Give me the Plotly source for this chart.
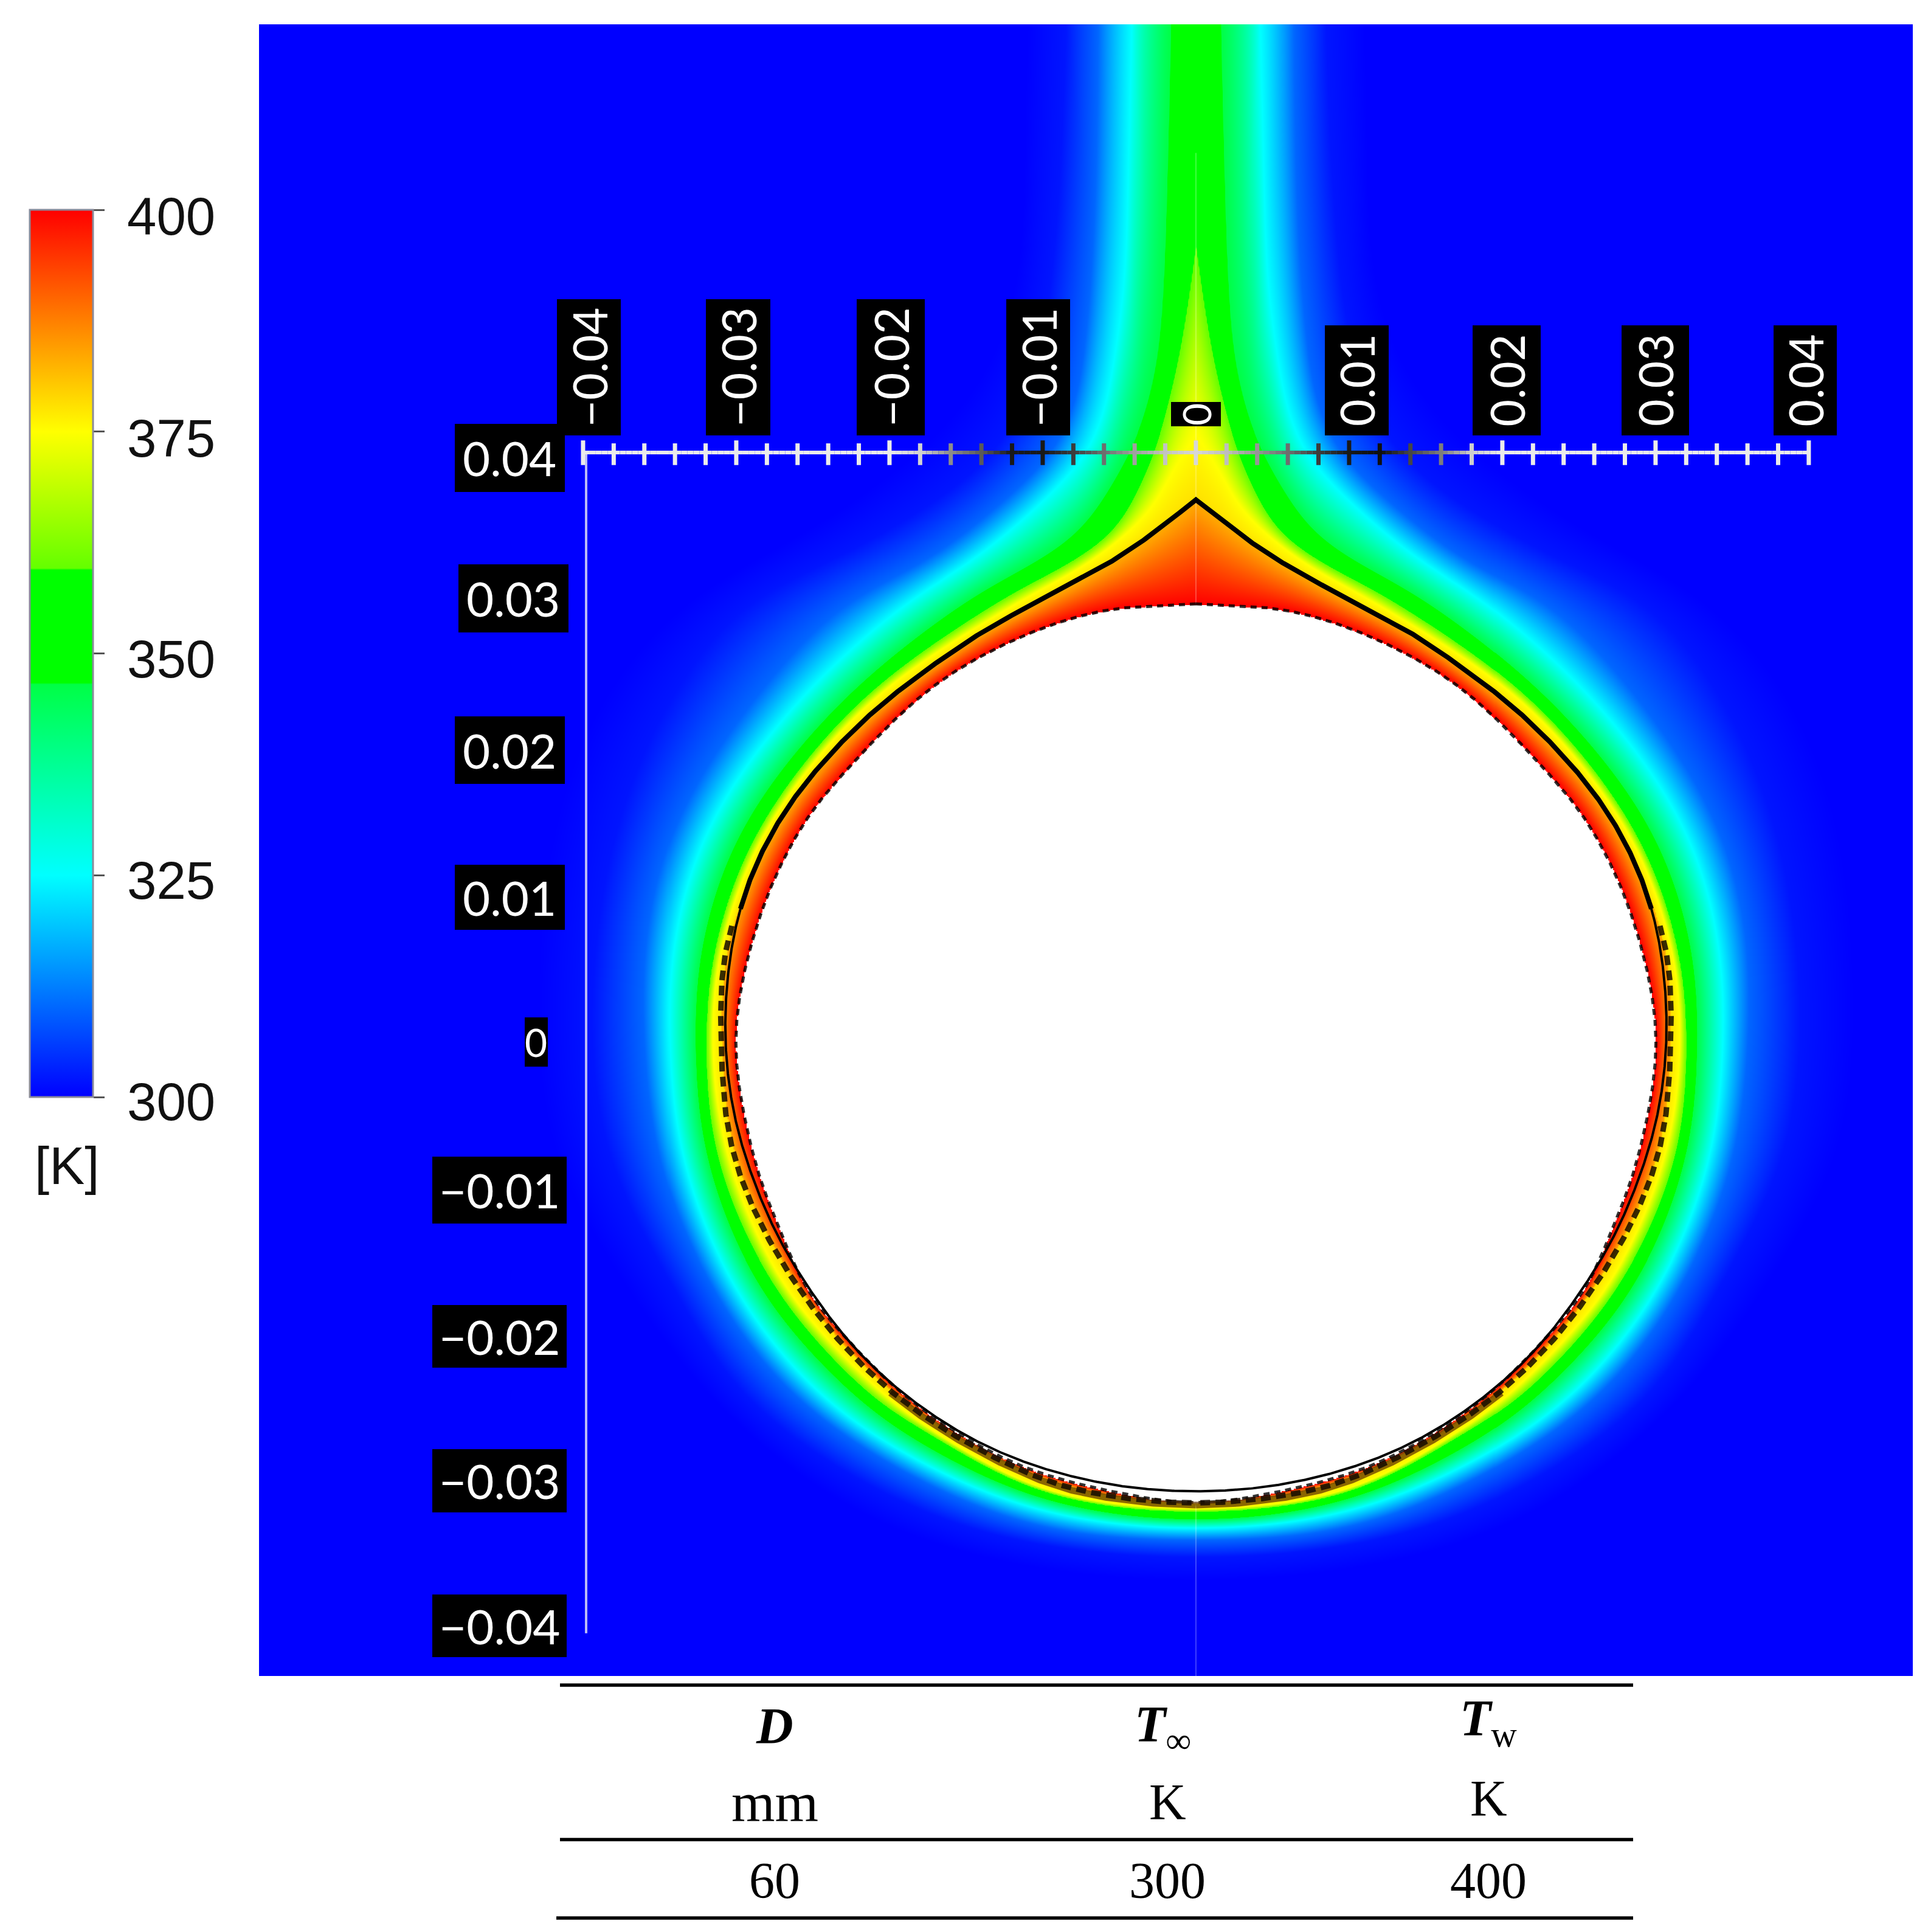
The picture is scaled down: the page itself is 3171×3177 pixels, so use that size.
import numpy as np
import plotly.graph_objects as go

W_PX, H_PX = 3171, 3177

# everything in mm; w = half width from the axis, y = height
Y_HOLE = [29.75, 29.3, 27.4, 24.1, 18.5, 14.9, 8.8, 0.4, -8.0, -12.8, -16.7, -20.5, -24.0, -27.1, -29.0, -30.5, -31.2]
W_HOLE = [0, 6.1, 11.7, 17.25, 22.8, 25.6, 28.4, 30.06, 28.8, 27.1, 25.4, 22.4, 18.9, 14.5, 10.6, 5.0, 0]

Y_IFACE = [36.8, 35.2, 33.95, 32.2, 30.6, 29.2, 27.6, 25.5, 23.5, 20.8, 17.6, 15.6, 13.0, 10.3, 7.0, 3.6, 0.1,
           -2.3, -5.7, -9.2, -13.3, -17.0, -20.8, -24.2, -27.0, -28.8, -30.1, -30.45]
W_IFACE = [0, 1.95, 3.34, 6.1, 8.9, 11.7, 14.5, 17.25, 20.0, 22.8, 25.6, 27.0, 28.4, 29.5, 30.3, 30.7, 30.8,
           30.6, 30.06, 28.95, 27.3, 25.05, 22.3, 18.65, 14.5, 10.3, 5.0, 0]

Y_JAG = [14.6, 7.0, 0.1, -8.0, -16.7, -23.9, -29.6, -30.8, -31.2]
W_JAG = [27.6, 30.6, 31.0, 30.1, 25.9, 19.6, 10.0, 5.0, 0]

Y_375 = [41.3, 40, 38.6, 36.9, 34.9, 32.2, 30.5, 23.2, 14.6, 7.0, 0.1, -8, -16.7, -23.9, -25.7, -30.2, -31.55]
W_375 = [0, 0.7, 1.8, 2.3, 4.1, 7.5, 10.6, 21.2, 28, 30.9, 31.6, 30.5, 26.7, 20.3, 18, 10, 0]

Y_360 = [54, 50.9, 46, 42.6, 40, 37.7, 34.8, 32.2, 30.5, 23.2, 14.6, 7, 0.1, -8, -16.7, -23.9, -26.1, -30.4, -31.75]
W_360 = [0, 0.4, 1.2, 2.0, 2.7, 3.7, 5.2, 8.8, 12, 21.9, 28.5, 31.3, 32, 31.2, 27.4, 21.2, 18, 10, 0]

Y_348 = [68.9, 60, 50.9, 46, 42.6, 40, 37.7, 34.8, 32.2, 30.5, 23.2, 14.6, 7, 0.1, -8, -16.7, -23.9, -27.1, -30.9, -32.3]
W_348 = [1.6, 1.8, 2.1, 2.5, 3.3, 4.2, 5.6, 7.3, 11.1, 14.2, 23.1, 29.6, 32.2, 32.7, 31.9, 28.4, 22.3, 18, 10, 0]

Y_325 = [68.9, 60, 50.9, 46, 42.6, 40, 37.7, 34.8, 32.2, 30.5, 23.2, 14.6, 7, 0.1, -8, -16.7, -23.9, -28.4, -31.75, -32.9]
W_325 = [4.2, 4.4, 4.7, 5.4, 5.9, 6.8, 9, 12, 15.2, 18.1, 26, 31.9, 34.1, 34.4, 33.5, 30.1, 24.5, 18, 10, 0]

Y_310 = [68.9, 60, 50.9, 46, 42.6, 40, 37.7, 34.8, 32.2, 30.5, 23.2, 14.6, 7, 0.1, -8, -16.7, -23.9, -29.7, -32.9, -33.7]
W_310 = [6.4, 6.5, 6.9, 7.4, 7.8, 9, 11.5, 14.8, 18, 22.3, 29, 34.2, 36, 36.05, 35.1, 31.6, 26.4, 18, 10, 0]

Y_302 = [68.9, 60, 50.9, 46, 42.6, 40, 37.7, 34.8, 32.2, 30.5, 23.2, 14.6, 7, 0.1, -8, -16.7, -23.9, -31.8, -34.1, -34.9]
W_302 = [8.5, 8.8, 9.5, 10.2, 11.4, 12.6, 15.5, 20, 24.5, 29, 34.5, 37.9, 39.2, 39.5, 38.4, 34, 29.8, 18, 10, 0]

Y_300 = [68.9, 46, 34.8, 30.5, 23.2, 14.6, 0.1, -8, -16.7, -23.9, -33, -36.5]
W_300 = [11, 13, 25, 33, 39, 42, 43, 42, 37, 32, 20, 0]

# ruler: one grey per tick
RULER_MM = list(range(-40, 41, 2))
RULER_GREY = ([235] * 11 + [210, 140, 90, 25, 25, 60, 110, 160, 195] + [215]
              + [190, 150, 110, 60, 25, 15, 70, 125, 205] + [235] * 11)

CB_TICKS = [400, 375, 350, 325, 300]
X_LABELS = ["\u22120.04", "\u22120.03", "\u22120.02", "\u22120.01", "0", "0.01", "0.02", "0.03", "0.04"]
Y_LABELS = ["0.04", "0.03", "0.02", "0.01", "0", "\u22120.01", "\u22120.02", "\u22120.03", "\u22120.04"]

TABLE_HEAD = ["<b><i>D</i></b>", "<b><i>T</i></b><sub>\u221e</sub>", "<b><i>T</i></b><sub>w</sub>"]
TABLE_UNIT = ["mm", "K", "K"]
TABLE_VALS = ["60", "300", "400"]

YC = -0.35  # centre used for the polar lookup of the isotherms

# box edges in page pixels for the black labels
X_BOXES = [(916, 1021, 492, 716), (1161, 1267, 492, 716), (1409, 1521, 492, 716), (1655, 1760, 492, 716),
           (1926, 2008, 661, 701), (2179, 2284, 535, 716), (2422, 2534, 535, 716), (2667, 2778, 535, 716),
           (2917, 3021, 535, 716)]
Y_BOXES = [(748, 929, 697, 809), (754, 935, 928, 1040), (748, 929, 1178, 1289), (748, 929, 1422, 1529),
           (863, 901, 1673, 1754), (711, 932, 1902, 2012), (711, 932, 2146, 2249), (711, 932, 2383, 2487),
           (711, 932, 2622, 2725)]


def px(x):
    return x / W_PX


def py(y):
    return 1 - y / H_PX


def curve(w_list, y_list, sigma):
    # centripetal Catmull-Rom through the read points, resampled and lightly evened out
    pts = np.column_stack([w_list, y_list]).astype(float)
    ghost_top = 2 * pts[0] - pts[1]
    ghost_bot = 2 * pts[-1] - pts[-2]
    if pts[-1, 0] == 0:
        ghost_bot = np.array([-pts[-2, 0], pts[-2, 1]])
    p = np.vstack([ghost_top, pts, ghost_bot])
    dense = []
    for i in range(1, len(p) - 2):
        p0, p1, p2, p3 = p[i - 1], p[i], p[i + 1], p[i + 2]
        t0 = 0.0
        t1 = t0 + np.linalg.norm(p1 - p0) ** 0.5
        t2 = t1 + np.linalg.norm(p2 - p1) ** 0.5
        t3 = t2 + np.linalg.norm(p3 - p2) ** 0.5
        for t in np.linspace(t1, t2, 24, endpoint=False):
            a1 = (t1 - t) / (t1 - t0) * p0 + (t - t0) / (t1 - t0) * p1
            a2 = (t2 - t) / (t2 - t1) * p1 + (t - t1) / (t2 - t1) * p2
            a3 = (t3 - t) / (t3 - t2) * p2 + (t - t2) / (t3 - t2) * p3
            b1 = (t2 - t) / (t2 - t0) * a1 + (t - t0) / (t2 - t0) * a2
            b2 = (t3 - t) / (t3 - t1) * a2 + (t - t1) / (t3 - t1) * a3
            dense.append((t2 - t) / (t2 - t1) * b1 + (t - t1) / (t2 - t1) * b2)
    dense.append(pts[-1])
    dense = np.array(dense)
    s = np.r_[0, np.cumsum(np.hypot(*np.diff(dense, axis=0).T))]
    si = np.arange(0, s[-1], 0.1)
    w = np.interp(si, s, dense[:, 0])
    y = np.interp(si, s, dense[:, 1])
    n = int(3 * sigma / 0.1)
    kernel = np.exp(-0.5 * (np.arange(-n, n + 1) * 0.1 / sigma) ** 2)
    kernel /= kernel.sum()
    # top end point-reflected, bottom end mirrored over the axis
    w_pad = np.r_[2 * w[0] - w[n:0:-1], w, -w[-2:-n - 2:-1] if w[-1] < 0.5 else 2 * w[-1] - w[-2:-n - 2:-1]]
    y_pad = np.r_[2 * y[0] - y[n:0:-1], y, y[-2:-n - 2:-1] if w[-1] < 0.5 else 2 * y[-1] - y[-2:-n - 2:-1]]
    return np.convolve(w_pad, kernel, "valid"), np.convolve(y_pad, kernel, "valid")


def radius(theta, w, y):
    th = np.maximum.accumulate(np.arctan2(np.abs(w), y - YC))
    inv = 1 / np.hypot(w, y - YC)
    if th[0] > 1e-3:
        # isotherm leaves the top of the frame, it runs on as a vertical line
        th = np.r_[0, th]
        inv = np.r_[1e-4, inv]
    return 1 / np.interp(theta, th, inv)


def both_sides(w, y):
    w = np.asarray(w) / 1000
    y = np.asarray(y) / 1000
    return np.r_[-w, np.nan, w], np.r_[y, np.nan, y]


hole_w, hole_y = curve(W_HOLE, Y_HOLE, 1.2)
iface_w, iface_y = curve(W_IFACE, Y_IFACE, 2.4)
jag_w, jag_y = curve(W_JAG, Y_JAG, 1.5)
k = sum(v > 14.6 for v in Y_IFACE)
band_w, band_y = curve(W_IFACE[:k] + W_JAG, Y_IFACE[:k] + Y_JAG, 2.4)

x_grid = np.linspace(-0.06115, 0.04679, 1360, dtype=np.float32)
y_grid = np.linspace(-0.04289, 0.06901, 1358, dtype=np.float32)
xx, yy = np.meshgrid(x_grid * 1000, y_grid * 1000)
theta = np.arctan2(np.abs(xx), yy - YC)
rr = np.hypot(xx, yy - YC)

levels = [400, 383, 378, 375, 359.4, 346.7, 325, 310, 302, 300]
rings = [radius(theta, hole_w, hole_y), radius(theta, band_w, band_y), radius(theta, band_w, band_y)]
for w_t, y_t, sig in [(W_375, Y_375, 1.6), (W_360, Y_360, 1.6), (W_348, Y_348, 2.0),
                      (W_325, Y_325, 2.5), (W_310, Y_310, 3.0), (W_302, Y_302, 3.5), (W_300, Y_300, 4.0)]:
    rings.append(radius(theta, *curve(w_t, y_t, sig)))
rings = np.maximum.accumulate(np.array(rings), axis=0)

temp = np.full(xx.shape, 300.0, dtype=np.float32)
for i in range(len(levels) - 1):
    inner, outer = rings[i], rings[i + 1]
    band = (rr >= inner) & (rr < outer)
    temp[band] = (levels[i] + (levels[i + 1] - levels[i]) * (rr[band] - inner[band]) / (outer[band] - inner[band]))
temp[rr < rings[0]] = np.nan


def cs(value):
    return (value - 300) / 100


colorscale = [
    [cs(300), "rgb(0,0,255)"], [cs(325), "rgb(0,255,255)"], [cs(346.5), "rgb(0,255,70)"], [cs(346.7), "rgb(0,255,0)"],
    [cs(359.4), "rgb(0,255,0)"], [cs(359.6), "rgb(100,255,0)"], [cs(375), "rgb(255,255,0)"],
    [cs(400), "rgb(255,0,0)"],
]

fig = go.Figure()
fig.add_trace(go.Heatmap(
    x=x_grid, y=y_grid, z=temp, zmin=300, zmax=400, zsmooth="best", colorscale=colorscale,
    hoverinfo="skip",
    colorbar=dict(
        x=px(49), xanchor="left", xpad=0, y=py(345), yanchor="top", ypad=0,
        len=1459, lenmode="pixels", thickness=104, thicknessmode="pixels",
        tickvals=CB_TICKS, ticks="outside", ticklen=18, tickwidth=3, tickcolor="#555555",
        showticklabels=False, outlinecolor="#8a8a9a", outlinewidth=3,
    ),
))

# faint mesh line on the axis and the left one
fig.add_trace(go.Scatter(x=[0, 0], y=[-0.0429, 0.0603], mode="lines", showlegend=False, hoverinfo="skip",
                         line=dict(color="rgba(255,255,255,0.25)", width=2)))
fig.add_trace(go.Scatter(x=[-0.0398, -0.0398], y=[-0.04, 0.04], mode="lines", showlegend=False, hoverinfo="skip",
                         line=dict(color="rgba(205,205,245,0.9)", width=4)))

hx, hy = both_sides(hole_w, hole_y)
fig.add_trace(go.Scatter(x=hx, y=hy, mode="lines", showlegend=False, hoverinfo="skip",
                         line=dict(color="rgba(0,0,0,0.8)", width=5, dash="10px,8px")))
low = jag_w < 20
bx, by = both_sides(jag_w[low], jag_y[low] - 0.15)
fig.add_trace(go.Scatter(x=bx, y=by, mode="lines", showlegend=False, hoverinfo="skip",
                         line=dict(color="rgba(90,45,0,0.7)", width=11)))
keep = jag_y < 8
jx, jy = both_sides(jag_w[keep], jag_y[keep])
fig.add_trace(go.Scatter(x=jx, y=jy, mode="lines", showlegend=False, hoverinfo="skip",
                         line=dict(color="rgba(20,10,0,0.85)", width=9, dash="16px,9px")))

# interface: heavy over the top, thin round the lower part
upper = iface_y > 9
lower = iface_y <= 9.2
ux = np.r_[-iface_w[upper][::-1], iface_w[upper]] / 1000
uy = np.r_[iface_y[upper][::-1], iface_y[upper]] / 1000
fig.add_trace(go.Scatter(x=ux, y=uy, mode="lines", showlegend=False, hoverinfo="skip",
                         line=dict(color="black", width=8)))
lx = np.r_[-iface_w[lower], iface_w[lower][::-1]] / 1000
ly = np.r_[iface_y[lower], iface_y[lower][::-1]] / 1000
fig.add_trace(go.Scatter(x=lx, y=ly, mode="lines", showlegend=False, hoverinfo="skip",
                         line=dict(color="black", width=4)))

shapes = []
# ruler bar, grey running between the ticks
for i in range(len(RULER_MM) - 1):
    for j in range(5):
        g = int(RULER_GREY[i] + (RULER_GREY[i + 1] - RULER_GREY[i]) * (j + 0.5) / 5)
        x0 = RULER_MM[i] + (RULER_MM[i + 1] - RULER_MM[i]) * j / 5
        x1 = RULER_MM[i] + (RULER_MM[i + 1] - RULER_MM[i]) * (j + 1) / 5
        shapes.append(dict(type="line", xref="x", yref="y", x0=x0 / 1000, x1=x1 / 1000, y0=0.04, y1=0.04,
                           line=dict(color=f"rgb({g},{g},{g})", width=6)))
for mm, g in zip(RULER_MM, RULER_GREY):
    top = 0.04082 if mm % 10 == 0 else 0.04062
    shapes.append(dict(type="line", xref="x", yref="y", x0=mm / 1000, x1=mm / 1000, y0=0.03915, y1=top,
                       line=dict(color=f"rgb({g},{g},{g})", width=7)))

annotations = []
for boxes, texts, angle, size in [(X_BOXES, X_LABELS, -90, 77), (Y_BOXES, Y_LABELS, 0, 78)]:
    for (x0, x1, y0, y1), t in zip(boxes, texts):
        shapes.append(dict(type="rect", xref="paper", yref="paper", x0=px(x0), x1=px(x1), y0=py(y0), y1=py(y1),
                           fillcolor="black", line=dict(width=0)))
        annotations.append(dict(xref="paper", yref="paper", x=px((x0 + x1) / 2), y=py((y0 + y1) / 2),
                                text=t, textangle=angle, showarrow=False, xanchor="center", yanchor="middle",
                                font=dict(family="Lato", size=64 if t == "0" else size, color="white")))

# colour bar labels
for t, label_y in zip(CB_TICKS, [355, 720, 1083, 1448, 1811]):
    annotations.append(dict(xref="paper", yref="paper", x=px(207), y=py(label_y), text=str(t), showarrow=False,
                            xanchor="left", yanchor="middle",
                            font=dict(family="Liberation Sans", size=87, color="#111111")))
annotations.append(dict(xref="paper", yref="paper", x=px(110), y=py(1916), text="[K]", showarrow=False,
                        xanchor="center", yanchor="middle",
                        font=dict(family="Liberation Sans", size=87, color="#111111")))

# table under the field
for x0, y0 in [(921, 2771), (921, 3025), (915, 3154)]:
    shapes.append(dict(type="line", xref="paper", yref="paper", x0=px(x0), x1=px(2686), y0=py(y0), y1=py(y0),
                       line=dict(color="black", width=5.5)))
for row, cols, ys, sizes in [(TABLE_HEAD, [1274, 1912, 2448], [2838, 2842, 2832], [84, 84, 84]),
                             (TABLE_UNIT, [1274, 1921, 2448], [2964, 2963, 2957], [92, 84, 84]),
                             (TABLE_VALS, [1274, 1920, 2448], [3092, 3092, 3092], [84, 84, 84])]:
    for t, col_x, y, size in zip(row, cols, ys, sizes):
        annotations.append(dict(xref="paper", yref="paper", x=px(col_x), y=py(y), text=t, showarrow=False,
                                xanchor="center", yanchor="middle",
                                font=dict(family="Liberation Serif", size=size, color="black")))

fig.update_layout(
    width=W_PX, height=H_PX, margin=dict(l=0, r=0, t=0, b=0), showlegend=False,
    paper_bgcolor="white", plot_bgcolor="rgba(0,0,0,0)",
    xaxis=dict(domain=[px(426), px(3146)], range=[-0.06115, 0.04679], visible=False),
    yaxis=dict(domain=[py(2756), py(40)], range=[-0.04289, 0.06901], visible=False),
    shapes=shapes, annotations=annotations,
)
fig.write_html("out.html", config={"displayModeBar": False}, post_script="document.body.style.margin='0';")
